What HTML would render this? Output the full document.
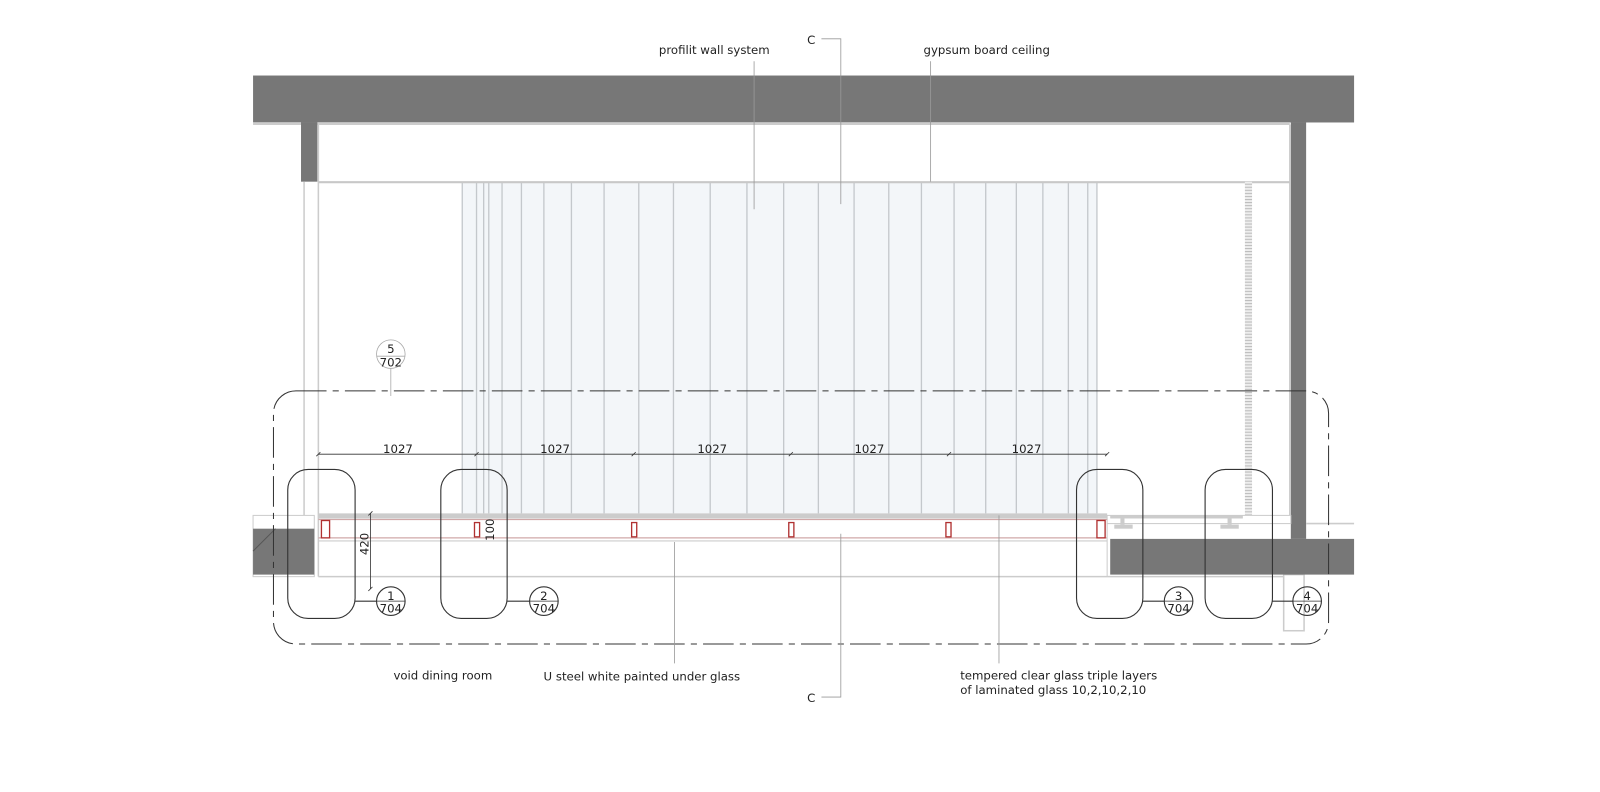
<!DOCTYPE html>
<html><head><meta charset="utf-8"><style>
html,body{margin:0;padding:0;background:#fff}
svg{display:block}
text{font-family:"DejaVu Sans","Liberation Sans",sans-serif;font-size:11.5px;fill:#222}
</style></head><body>
<svg width="1600" height="792" viewBox="0 0 1568 776" preserveAspectRatio="none" xmlns="http://www.w3.org/2000/svg">
<defs>
<pattern id="rod" width="6" height="3" patternUnits="userSpaceOnUse"><rect width="6" height="3" fill="#eee"/><rect width="6" height="1" fill="#bbb"/></pattern>
</defs>
<rect x="453" y="178" width="622" height="325" fill="#f3f6f9"/>
<g stroke="#c4c8cc" stroke-width="1.3">
<line x1="453" y1="178" x2="453" y2="503"/><line x1="467" y1="178" x2="467" y2="503"/><line x1="474" y1="178" x2="474" y2="503"/><line x1="479" y1="178" x2="479" y2="503"/><line x1="492" y1="178" x2="492" y2="503"/><line x1="511" y1="178" x2="511" y2="503"/><line x1="533" y1="178" x2="533" y2="503"/><line x1="560" y1="178" x2="560" y2="503"/><line x1="592" y1="178" x2="592" y2="503"/><line x1="626" y1="178" x2="626" y2="503"/><line x1="660" y1="178" x2="660" y2="503"/><line x1="696" y1="178" x2="696" y2="503"/><line x1="732" y1="178" x2="732" y2="503"/><line x1="768" y1="178" x2="768" y2="503"/><line x1="802" y1="178" x2="802" y2="503"/><line x1="837" y1="178" x2="837" y2="503"/><line x1="871" y1="178" x2="871" y2="503"/><line x1="903" y1="178" x2="903" y2="503"/><line x1="935" y1="178" x2="935" y2="503"/><line x1="966" y1="178" x2="966" y2="503"/><line x1="996" y1="178" x2="996" y2="503"/><line x1="1022" y1="178" x2="1022" y2="503"/><line x1="1047" y1="178" x2="1047" y2="503"/><line x1="1066" y1="178" x2="1066" y2="503"/><line x1="1075" y1="178" x2="1075" y2="503"/>
</g>
<rect x="248" y="74" width="1079" height="46" fill="#777"/>
<line x1="248" y1="121.5" x2="1264" y2="121.5" stroke="#ccc" stroke-width="2"/>
<rect x="295" y="120" width="16" height="58" fill="#777"/>
<rect x="1265" y="120" width="15" height="408" fill="#777"/>
<g stroke="#ccc" stroke-width="1.5" fill="none">
<line x1="298" y1="178" x2="298" y2="505"/><line x1="312" y1="122" x2="312" y2="565"/>
<line x1="1264" y1="122" x2="1264" y2="505"/>
<line x1="1280" y1="513" x2="1327" y2="513"/>
<rect x="1258" y="563" width="20" height="55"/>
</g>
<line x1="312" y1="178.5" x2="1264" y2="178.5" stroke="#c8c8c8" stroke-width="2"/>
<rect x="1220" y="178" width="7" height="327" fill="url(#rod)"/>
<rect x="312" y="503" width="773" height="5" fill="#ccc"/>
<rect x="1085" y="505" width="180" height="8" fill="#fff" stroke="#ccc"/>
<rect x="1088" y="505" width="130" height="3" fill="#ccc"/>
<g stroke="#d0a8a8" stroke-width="1.2"><line x1="312" y1="509" x2="1085" y2="509"/><line x1="312" y1="527" x2="1085" y2="527"/></g>
<line x1="312" y1="530" x2="1085" y2="530" stroke="#ccc"/>
<rect x="248" y="505" width="60" height="60" fill="#fff" stroke="#ccc"/>
<rect x="248" y="518" width="60" height="45" fill="#777"/>
<line x1="248" y1="540" x2="270" y2="518" stroke="#555"/>
<rect x="1088" y="528" width="239" height="35" fill="#777"/>
<line x1="1085" y1="565" x2="1258" y2="565" stroke="#ccc" stroke-width="1.5"/>
<line x1="312" y1="565" x2="1085" y2="565" stroke="#ccc" stroke-width="1.5"/>
<line x1="1085" y1="513" x2="1085" y2="565" stroke="#ccc"/>
<g fill="#ccc"><rect x="1092" y="514" width="18" height="4"/><rect x="1098" y="508" width="4" height="6"/><rect x="1196" y="514" width="18" height="4"/><rect x="1203" y="508" width="4" height="6"/></g>
<g fill="#fff" stroke="#b03030" stroke-width="1.3">
<rect x="315" y="510" width="8" height="17"/><rect x="1075" y="510" width="8" height="17"/>
<rect x="465" y="512" width="5" height="14"/><rect x="619" y="512" width="5" height="14"/><rect x="773" y="512" width="5" height="14"/><rect x="927" y="512" width="5" height="14"/>
</g>
<g stroke="#333" stroke-width="0.8" fill="none">
<line x1="312" y1="445" x2="1085" y2="445"/>
<line x1="310" y1="447" x2="314" y2="443"/><line x1="465" y1="447" x2="469" y2="443"/><line x1="619" y1="447" x2="623" y2="443"/><line x1="773" y1="447" x2="777" y2="443"/><line x1="928" y1="447" x2="932" y2="443"/><line x1="1083" y1="447" x2="1087" y2="443"/>
<line x1="363" y1="503" x2="363" y2="577"/><line x1="361" y1="505" x2="365" y2="501"/><line x1="361" y1="579" x2="365" y2="575"/>
</g>
<g text-anchor="middle"><text x="390" y="444">1027</text><text x="544" y="444">1027</text><text x="698" y="444">1027</text><text x="852" y="444">1027</text><text x="1006" y="444">1027</text></g>
<text x="0" y="0" transform="translate(361,533) rotate(-90)" text-anchor="middle">420</text>
<text x="0" y="0" transform="translate(484,519) rotate(-90)" text-anchor="middle">100</text>
<rect x="268" y="383" width="1034" height="248" rx="22" fill="none" stroke="#333" stroke-width="1" stroke-dasharray="30,6,6,6"/>
<g fill="none" stroke="#333" stroke-width="1.1">
<rect x="282" y="460" width="66" height="146" rx="20"/>
<rect x="432" y="460" width="65" height="146" rx="20"/>
<rect x="1055" y="460" width="65" height="146" rx="20"/>
<rect x="1181" y="460" width="66" height="146" rx="20"/>
<line x1="348" y1="589" x2="369" y2="589"/><line x1="497" y1="589" x2="519" y2="589"/><line x1="1120" y1="589" x2="1141" y2="589"/><line x1="1247" y1="589" x2="1267" y2="589"/>
<circle cx="383" cy="589" r="14"/><circle cx="533" cy="589" r="14"/><circle cx="1155" cy="589" r="14"/><circle cx="1281" cy="589" r="14"/>
</g>
<g stroke="#aaa" stroke-width="0.8" fill="none">
<circle cx="383" cy="347" r="14"/><line x1="369" y1="349" x2="397" y2="349"/><line x1="383" y1="361" x2="383" y2="388"/>
<line x1="369" y1="589" x2="397" y2="589" stroke="#333"/><line x1="519" y1="589" x2="547" y2="589" stroke="#333"/><line x1="1141" y1="589" x2="1169" y2="589" stroke="#333"/><line x1="1267" y1="589" x2="1295" y2="589" stroke="#333"/>
</g>
<g text-anchor="middle" font-size="12">
<text x="383" y="346">5</text><text x="383" y="359">702</text>
<text x="383" y="588">1</text><text x="383" y="600">704</text>
<text x="533" y="588">2</text><text x="533" y="600">704</text>
<text x="1155" y="588">3</text><text x="1155" y="600">704</text>
<text x="1281" y="588">4</text><text x="1281" y="600">704</text>
</g>
<g stroke="#999" stroke-width="0.8" fill="none">
<polyline points="805,38 824,38 824,200"/>
<polyline points="805,683 824,683 824,523"/>
<line x1="739" y1="60" x2="739" y2="205"/>
<line x1="912" y1="60" x2="912" y2="178"/>
<line x1="661" y1="531" x2="661" y2="650"/>
<line x1="979" y1="505" x2="979" y2="650"/>
</g>
<text x="795" y="43" text-anchor="middle" font-size="13">C</text>
<text x="795" y="688" text-anchor="middle" font-size="13">C</text>
<text x="700" y="53" text-anchor="middle">profilit wall system</text>
<text x="967" y="53" text-anchor="middle">gypsum board ceiling</text>
<text x="434" y="666" text-anchor="middle">void dining room</text>
<text x="629" y="667" text-anchor="middle">U steel white painted under glass</text>
<text x="941" y="666">tempered clear glass triple layers</text>
<text x="941" y="680">of laminated glass 10,2,10,2,10</text>
</svg>
</body></html>
